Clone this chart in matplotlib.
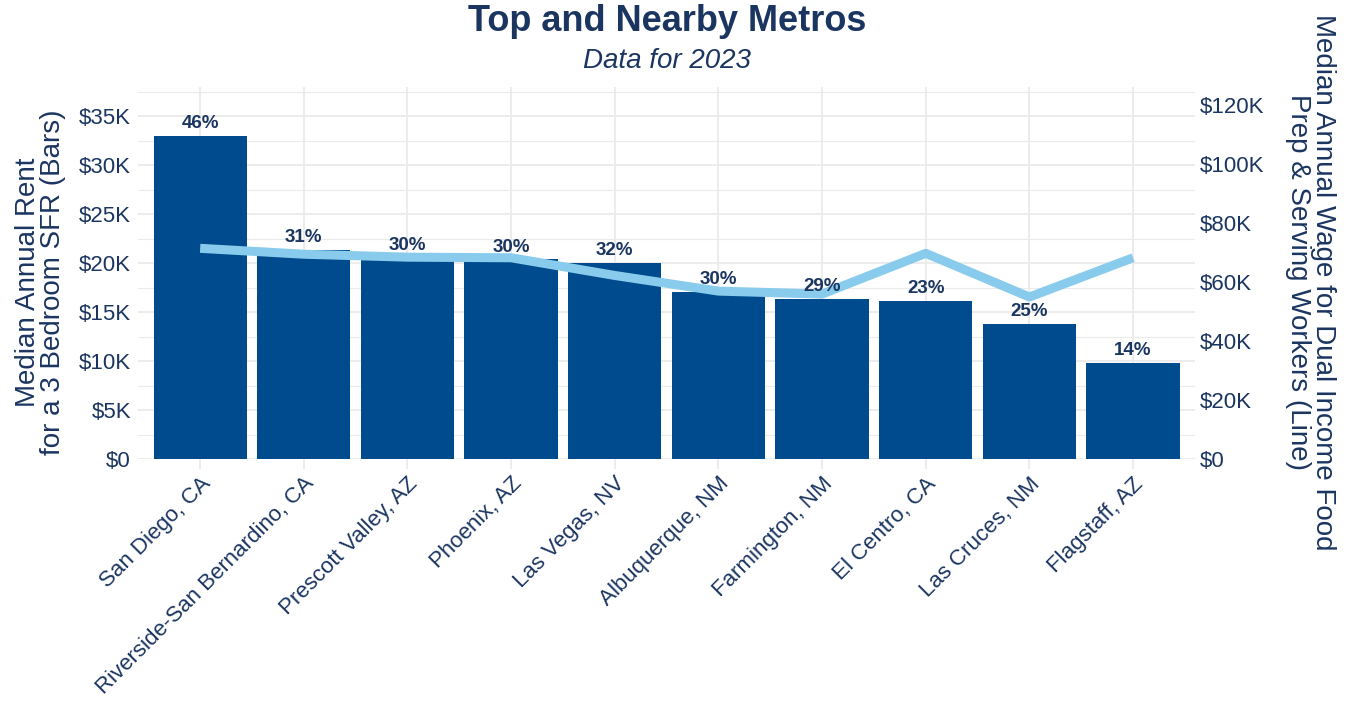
import matplotlib
matplotlib.use("Agg")
from matplotlib import pyplot as plt
from matplotlib.ticker import FuncFormatter, MultipleLocator

# data (thousands of dollars)
metros = ["San Diego, CA", "Riverside-San Bernardino, CA", "Prescott Valley, AZ",
          "Phoenix, AZ", "Las Vegas, NV", "Albuquerque, NM", "Farmington, NM",
          "El Centro, CA", "Las Cruces, NM", "Flagstaff, AZ"]
rent_k = [33.0, 21.35, 20.6, 20.4, 20.0, 17.05, 16.35, 16.2, 13.8, 9.85]
wage_k = [71.5, 69.5, 68.5, 68.3, 62.3, 57.0, 56.0, 69.8, 55.0, 68.3]
pct_labels = ["46%", "31%", "30%", "30%", "32%", "30%", "29%", "23%", "25%", "14%"]

navy = "#1b3561"
bar_color = "#004b8d"
line_color = "#88cbec"
grid_color = "#ebebeb"
scale = 3.32  # secondary axis factor

plt.rcParams["font.family"] = ["Liberation Sans", "DejaVu Sans"]

fig = plt.figure(figsize=(13.46, 7.11), dpi=100)
ax = fig.add_axes([0.1025, 0.354, 0.7855, 0.5236])
x = list(range(len(metros)))

ax.bar(x, rent_k, width=0.9, color=bar_color, zorder=2)
ax.set_ylim(0, 38)
ax.set_xlim(-0.6, len(metros) - 0.4)

ax2 = ax.twinx()
ax2.set_ylim(0, 38 * scale)
ax2.plot(x, wage_k, color=line_color, linewidth=6.5, solid_capstyle="butt", zorder=3)
ax2.set_zorder(ax.get_zorder() + 1)
ax2.patch.set_visible(False)

# percentage labels on top
for xi, r, lab in zip(x, rent_k, pct_labels):
    ax2.text(xi, r * scale + 0.4 * scale, lab, ha="center", va="bottom",
             fontsize=13.5, fontweight="bold", color=navy, zorder=4)

# grid and axes styling, ggplot-like
ax.yaxis.set_major_locator(MultipleLocator(5))
ax.yaxis.set_minor_locator(MultipleLocator(2.5))
ax.grid(axis="y", which="major", color=grid_color, linewidth=1.3, zorder=0)
ax.grid(axis="y", which="minor", color=grid_color, linewidth=0.8, zorder=0)
ax.grid(axis="x", which="major", color=grid_color, linewidth=1.3, zorder=0)
ax.set_axisbelow(True)
ax.yaxis.set_major_formatter(FuncFormatter(lambda v, p: "$0" if v == 0 else f"${v:.0f}K"))
ax2.yaxis.set_major_locator(MultipleLocator(20))
ax2.yaxis.set_major_formatter(FuncFormatter(lambda v, p: "$0" if v == 0 else f"${v:.0f}K"))

for a in (ax, ax2):
    for s in a.spines.values():
        s.set_visible(False)
ax.tick_params(axis="y", which="both", length=0, labelsize=16, labelcolor=navy, pad=5)
ax2.tick_params(axis="y", which="both", length=0, labelsize=16, labelcolor=navy, pad=3)
ax.tick_params(axis="x", length=7, width=1.3, color=grid_color, labelsize=16,
               labelcolor=navy, pad=3)
ax.set_xticks(x)
ax.set_xticklabels(metros, rotation=45, ha="right", rotation_mode="anchor")

ax.set_ylabel("Median Annual Rent\nfor a 3 Bedroom SFR (Bars)", fontsize=20,
              color=navy, linespacing=0.95, va="center")
ax.yaxis.set_label_coords(-0.092, 0.476)
ax2.set_ylabel("Median Annual Wage for Dual Income Food\nPrep & Serving Workers (Line)",
               fontsize=20, color=navy, rotation=-90, va="center", linespacing=0.95)
ax2.yaxis.set_label_coords(1.109, 0.476)

fig.text(0.4955, 0.995, "Top and Nearby Metros", ha="center", va="top",
         fontsize=26, fontweight="bold", color=navy)
fig.text(0.4955, 0.932, "Data for 2023", ha="center", va="top",
         fontsize=20, style="italic", color=navy)

fig.savefig("out.png", dpi=100, facecolor="white")
